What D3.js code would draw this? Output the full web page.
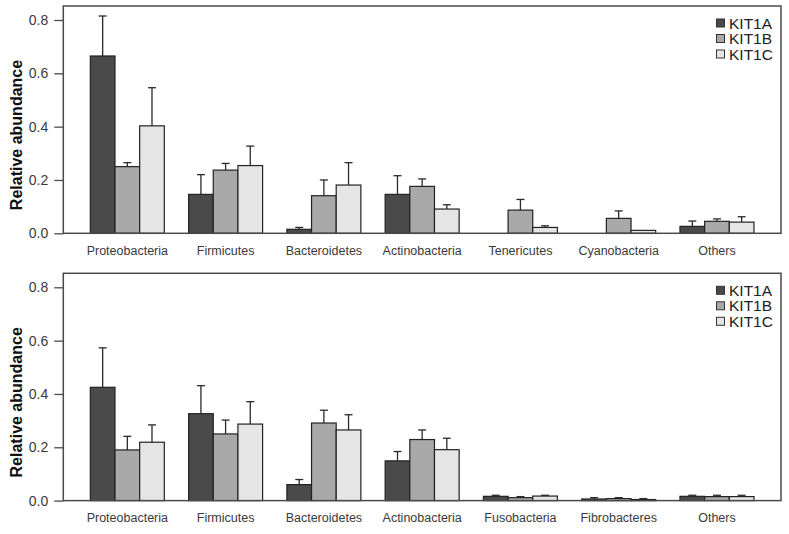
<!DOCTYPE html>
<html>
<head>
<meta charset="utf-8">
<script src="https://cdn.jsdelivr.net/npm/d3@7"></script>
<style>
  html, body { margin: 0; padding: 0; background: #fff; }
  svg { display: block; font-family: "Liberation Sans", Arial, sans-serif; }
</style>
</head>
<body>
<svg id="chart" width="789" height="534"></svg>
<script>
// ---------------- data ----------------
const seriesNames = ["KIT1A", "KIT1B", "KIT1C"];
const seriesColors = ["#4a4a4a", "#a9a9a9", "#e5e5e5"];
const yTicks = [0, 0.2, 0.4, 0.6, 0.8];

const categoriesTop = ["Proteobacteria", "Firmicutes", "Bacteroidetes", "Actinobacteria", "Tenericutes", "Cyanobacteria", "Others"];
const topKIT1A = [0.665, 0.146, 0.015, 0.146, 0, 0, 0.026];
const topKIT1B = [0.250, 0.237, 0.141, 0.176, 0.087, 0.056, 0.045];
const topKIT1C = [0.403, 0.254, 0.181, 0.091, 0.022, 0.011, 0.042];
const topErrA  = [0.150, 0.074, 0.007, 0.070, 0, 0, 0.020];
const topErrB  = [0.015, 0.025, 0.059, 0.028, 0.040, 0.028, 0.009];
const topErrC  = [0.143, 0.073, 0.084, 0.016, 0.006, 0, 0.020];

const categoriesBottom = ["Proteobacteria", "Firmicutes", "Bacteroidetes", "Actinobacteria", "Fusobacteria", "Fibrobacteres", "Others"];
const botKIT1A = [0.425, 0.326, 0.060, 0.149, 0.016, 0.006, 0.016];
const botKIT1B = [0.190, 0.250, 0.291, 0.229, 0.011, 0.0075, 0.015];
const botKIT1C = [0.219, 0.287, 0.265, 0.191, 0.017, 0.004, 0.015];
const botErrA  = [0.148, 0.105, 0.019, 0.035, 0.004, 0.005, 0.004];
const botErrB  = [0.051, 0.052, 0.048, 0.036, 0.004, 0.0035, 0.005];
const botErrC  = [0.065, 0.084, 0.057, 0.043, 0.003, 0.0035, 0.005];

// ---------------- drawing ----------------
const svg = d3.select("#chart");

function drawPanel(top, categories, values, errors) {
  const left = 63.3, right = 781, boxTop = top, boxBottom = top + 227.3;
  const g = svg.append("g");

  const x0 = d3.scaleBand().domain(categories).range([left, right])
    .paddingInner(0.247).paddingOuter(0.275);
  const x1 = d3.scaleBand().domain(seriesNames).range([0, x0.bandwidth()]).padding(0);
  const y = d3.scaleLinear().domain([0, 0.8]).range([boxBottom, boxBottom - 213.3]);

  const rows = [];
  categories.forEach((c, i) => {
    seriesNames.forEach((s, j) => {
      rows.push({ cat: c, ser: s, j: j, v: values[j][i], e: errors[j][i] });
    });
  });

  // error bars (drawn first so bar covers bottom)
  const cap = 4;
  const eb = g.append("g").attr("stroke", "#2a2a2a").attr("stroke-width", 1.3).attr("fill", "none");
  rows.filter(d => d.v > 0 && d.e > 0).forEach(d => {
    const cx = x0(d.cat) + x1(d.ser) + x1.bandwidth() / 2;
    eb.append("line").attr("x1", cx).attr("x2", cx).attr("y1", y(d.v)).attr("y2", y(d.v + d.e));
    eb.append("line").attr("x1", cx - cap).attr("x2", cx + cap).attr("y1", y(d.v + d.e)).attr("y2", y(d.v + d.e));
  });

  // bars
  g.append("g").selectAll("rect").data(rows.filter(d => d.v > 0)).join("rect")
    .attr("x", d => x0(d.cat) + x1(d.ser))
    .attr("y", d => y(d.v))
    .attr("width", x1.bandwidth())
    .attr("height", d => y(0) - y(d.v))
    .attr("fill", d => seriesColors[d.j])
    .attr("stroke", "#222")
    .attr("stroke-width", 1.2);

  // box
  g.append("rect").attr("x", left).attr("y", boxTop).attr("width", right - left).attr("height", boxBottom - boxTop)
    .attr("fill", "none").attr("stroke", "#4a4a4a").attr("stroke-width", 1.5);

  // y axis
  const ya = g.append("g").attr("transform", `translate(${left},0)`)
    .call(d3.axisLeft(y).tickValues(yTicks).tickFormat(d3.format(".1f")).tickSize(9).tickPadding(6));
  ya.select(".domain").remove();
  ya.selectAll(".tick line").attr("stroke", "#4a4a4a").attr("stroke-width", 1.3);
  ya.selectAll(".tick text").attr("fill", "#3a3a3a").style("font-size", "14px")
    .style("font-family", "'Liberation Sans', Arial, sans-serif");

  // x axis labels
  const xa = g.append("g").attr("transform", `translate(0,${boxBottom})`)
    .call(d3.axisBottom(x0).tickSize(0).tickPadding(13));
  xa.select(".domain").remove();
  xa.selectAll(".tick text").attr("fill", "#3a3a3a").style("font-size", "12.5px")
    .style("font-family", "'Liberation Sans', Arial, sans-serif");

  // y label
  g.append("text")
    .attr("transform", `translate(22,${top + 129}) rotate(-90)`)
    .attr("text-anchor", "middle")
    .attr("fill", "#111")
    .style("font-size", "16px").style("font-weight", "bold")
    .text("Relative abundance");

  // legend
  const lg = g.append("g");
  seriesNames.forEach((s, j) => {
    const cy = top + 17 + j * 15.5;
    lg.append("rect").attr("x", 716.5).attr("y", cy - 4).attr("width", 8).attr("height", 8)
      .attr("fill", seriesColors[j]).attr("stroke", "#333").attr("stroke-width", 1);
    lg.append("text").attr("x", 729).attr("y", cy).attr("dy", "0.36em")
      .attr("fill", "#222").style("font-size", "15.5px").text(s);
  });
}

drawPanel(6, categoriesTop, [topKIT1A, topKIT1B, topKIT1C], [topErrA, topErrB, topErrC]);
drawPanel(273.3, categoriesBottom, [botKIT1A, botKIT1B, botKIT1C], [botErrA, botErrB, botErrC]);
</script>
</body>
</html>
